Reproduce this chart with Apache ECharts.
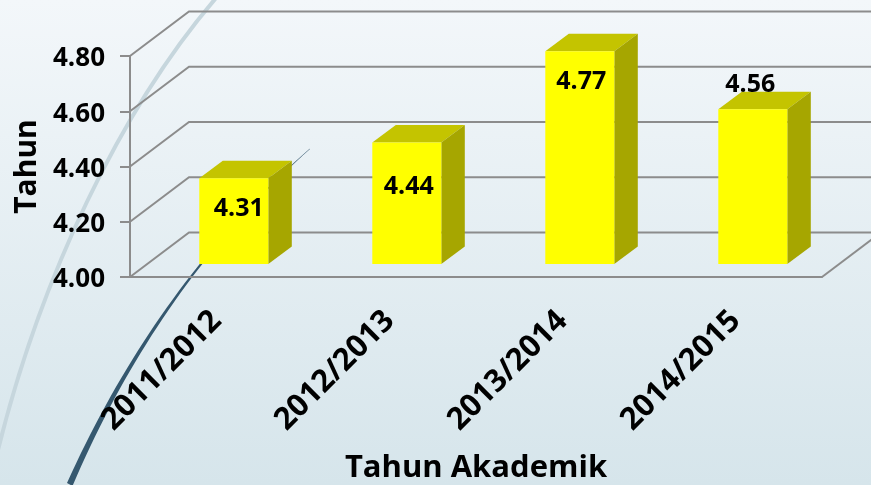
<!DOCTYPE html>
<html><head><meta charset="utf-8">
<style>html,body{margin:0;padding:0;background:#e6eff3}#c{width:871px;height:485px}</style>
<script src="https://cdn.jsdelivr.net/npm/echarts@6/dist/echarts.min.js"></script>
</head><body><div id="c"></div>
<script>
const categories = ['2011/2012','2012/2013','2013/2014','2014/2015'];
const values = [4.31,4.44,4.77,4.56];
const valueLabels = ['4.31','4.44','4.77','4.56'];
const yTicks = [4.0,4.2,4.4,4.6,4.8];

const FONT = '"Open Sans"';
const WALL_DX = 59, WALL_DY = -44.5;
const BAR_DX = 17.3, BAR_DY = -13, BAR_W = 69, SIDE_DX = 23.5, SIDE_DY = -17.5;
const LABEL_SHIFT = [[5,31],[2,44],[1.5,31],[-2.5,-24]];
const GRID = '#8c8c8c';

function taperedCurve(){
  const pts = [], back = [];
  const q = (a,b,c,t)=>(1-t)*(1-t)*a+2*(1-t)*t*b+t*t*c;
  for (let k=0;k<=40;k++){
    const t=k/40;
    pts.push([q(309.6,157,67,t),q(148.7,283,483,t)]);
    back.unshift([q(310,158,72.5,t),q(149,285,486,t)]);
  }
  return pts.concat(back);
}
function renderWall(params, api){
  const cs = params.coordSys;
  const p = api.coord([0, api.value(0)]);
  const y = p[1], x0 = cs.x, x1 = cs.x + cs.width;
  const children = [{type:'polyline',shape:{points:[[x0,y],[x0+WALL_DX,y+WALL_DY],[x1+WALL_DX,y+WALL_DY]]},
    style:{stroke:GRID,lineWidth:2,fill:null}}];
  if (params.dataIndex === 0) children.push({type:'line',shape:{x1:x1,y1:y,x2:x1+WALL_DX,y2:y+WALL_DY},
    style:{stroke:GRID,lineWidth:2}});
  return {type:'group',children};
}
function renderBar(params, api){
  const i = params.dataIndex;
  const top = api.coord([i, api.value(1)]);
  const base = api.coord([i, yTicks[0]]);
  const xl = top[0] + BAR_DX - BAR_W/2, xr = xl + BAR_W;
  const yt = top[1] + BAR_DY, yb = base[1] + BAR_DY;
  const s = LABEL_SHIFT[i];
  return {type:'group',children:[
    {type:'polygon',shape:{points:[[xl,yt],[xr,yt],[xr+SIDE_DX,yt+SIDE_DY],[xl+SIDE_DX,yt+SIDE_DY]]},style:{fill:'#c4c400'}},
    {type:'polygon',shape:{points:[[xr,yt],[xr+SIDE_DX,yt+SIDE_DY],[xr+SIDE_DX,yb+SIDE_DY],[xr,yb]]},style:{fill:'#a6a600'}},
    {type:'rect',shape:{x:xl,y:yt,width:BAR_W,height:yb-yt},style:{fill:'#ffff00'}},
    {type:'text',z2:10,style:{x:(xl+xr)/2+s[0],y:yt+s[1],text:valueLabels[i],fill:'#000',
      font:'bold 25px '+FONT,align:'center',verticalAlign:'middle'}}
  ]};
}
const chart = echarts.init(document.getElementById('c'),null,{renderer:'canvas'});
chart.setOption({
  animation:false,
  backgroundColor:{type:'linear',x:0,y:0,x2:0,y2:1,colorStops:[{offset:0,color:'#f3f7fa'},{offset:1,color:'#d6e5eb'}]},
  graphic:[
    {type:'bezierCurve',z:-1,silent:true,
      shape:{x1:216,y1:-2,cpx1:120,cpy1:110,cpx2:40,cpy2:280,x2:-2,y2:450},
      style:{fill:null,stroke:'#c6d6dd',lineWidth:4}},
    {type:'polygon',z:-1,silent:true,shape:{points:taperedCurve()},style:{fill:'#35586f'}}
  ],
  grid:{left:130,right:49,top:56,bottom:208,containLabel:false,outerBoundsMode:'none'},
  xAxis:{type:'category',data:categories,
    axisLine:{lineStyle:{color:GRID,width:2}},axisTick:{show:false},
    axisLabel:{rotate:45,color:'#000',fontFamily:FONT,fontWeight:'bold',fontSize:31,margin:39,interval:0},
    name:'Tahun Akademik',nameLocation:'middle',nameGap:176,
    nameTextStyle:{color:'#000',fontFamily:FONT,fontWeight:'bold',fontSize:31}},
  yAxis:{type:'value',min:4,max:4.8,interval:0.2,
    axisLine:{show:true,lineStyle:{color:GRID,width:2}},
    axisTick:{show:true,length:10,lineStyle:{color:GRID,width:2}},
    splitLine:{show:false},
    axisLabel:{color:'#000',fontFamily:FONT,fontWeight:'bold',fontSize:26,margin:25,
      verticalAlign:'top',lineHeight:6,formatter:v=>v.toFixed(2)},
    name:'Tahun',nameLocation:'middle',nameGap:87,
    nameTextStyle:{color:'#000',fontFamily:FONT,fontWeight:'bold',fontSize:30}},
  series:[
    {type:'custom',name:'wall',z:1,clip:false,silent:true,coordinateSystem:'cartesian2d',
      renderItem:renderWall,encode:{y:0},data:yTicks.map(v=>[v])},
    {type:'custom',name:'Tahun',z:3,clip:false,coordinateSystem:'cartesian2d',
      renderItem:renderBar,encode:{x:0,y:1},data:values.map((v,i)=>[i,v])}
  ]
});
</script></body></html>
